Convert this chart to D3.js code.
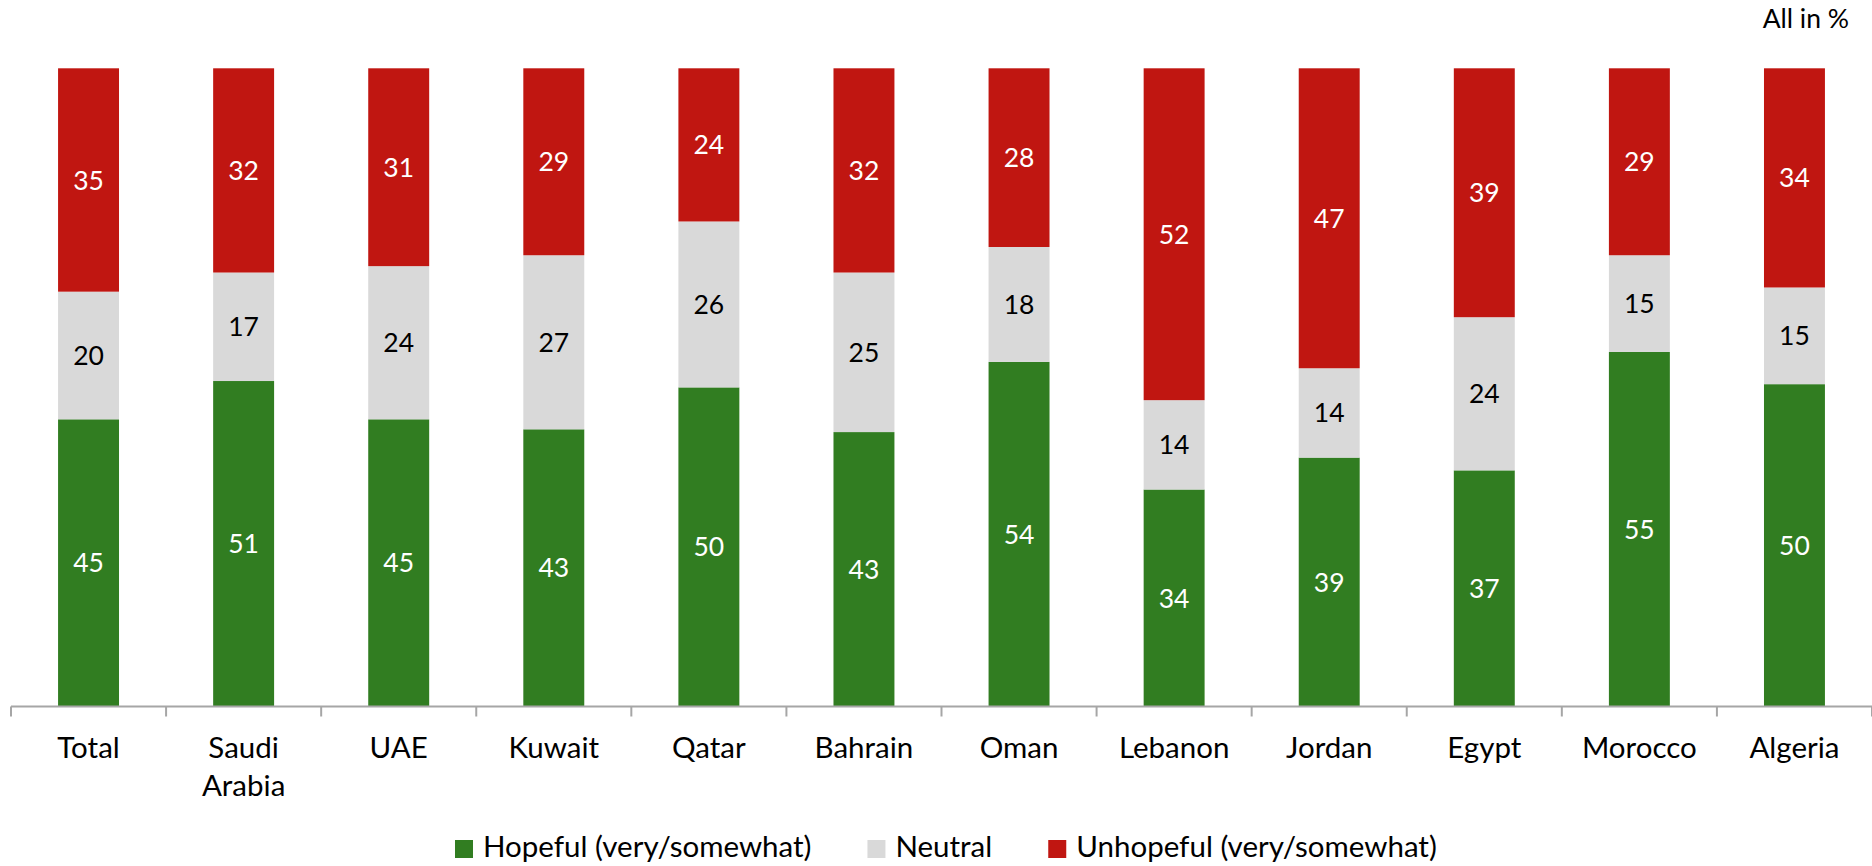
<!DOCTYPE html>
<html>
<head>
<meta charset="utf-8">
<script src="https://cdn.jsdelivr.net/npm/d3@7"></script>
<style>
  html, body { margin: 0; padding: 0; background: #ffffff; }
  svg { display: block; font-family: Lato, "Open Sans", sans-serif; }
</style>
</head>
<body>
<svg id="chart" width="1872" height="866"></svg>
<script>
// Categories (countries) shown along the x axis
const categories = ["Total", "Saudi Arabia", "UAE", "Kuwait", "Qatar", "Bahrain",
                    "Oman", "Lebanon", "Jordan", "Egypt", "Morocco", "Algeria"];

// Share of respondents per answer, in percent
const hopeful   = [45, 51, 45, 43, 50, 43, 54, 34, 39, 37, 55, 50];
const neutral   = [20, 17, 24, 27, 26, 25, 18, 14, 14, 24, 15, 15];
const unhopeful = [35, 32, 31, 29, 24, 32, 28, 52, 47, 39, 29, 34];

const seriesNames = ["Hopeful (very/somewhat)", "Neutral", "Unhopeful (very/somewhat)"];
const seriesColors = ["#317d21", "#d9d9d9", "#c01611"];
const labelColors  = ["#ffffff", "#000000", "#ffffff"];

const keys = ["hopeful", "neutral", "unhopeful"];
const rows = categories.map((c, i) => ({
  category: c, hopeful: hopeful[i], neutral: neutral[i], unhopeful: unhopeful[i]
}));

const svg = d3.select("#chart");
const VALUE_FONT = 26.5;
const LABEL_FONT = 29.5;

// Layout
const axisY = 706.5, topY = 68.3;
const x = d3.scaleBand().domain(categories).range([11, 1872]).padding(0);
const barW = x.bandwidth() * 0.393;
const y = d3.scaleLinear().domain([0, 1]).range([axisY, topY]);

// 100% stacked layout
const stack = d3.stack().keys(keys).offset(d3.stackOffsetExpand);
const layers = stack(rows);

const g = svg.append("g");
layers.forEach((layer, li) => {
  const lg = g.append("g");
  lg.selectAll("rect")
    .data(layer)
    .join("rect")
    .attr("x", d => x(d.data.category) + (x.bandwidth() - barW) / 2)
    .attr("y", d => y(d[1]))
    .attr("width", barW)
    .attr("height", d => y(d[0]) - y(d[1]))
    .attr("fill", seriesColors[li]);

  lg.selectAll("text")
    .data(layer)
    .join("text")
    .attr("x", d => x(d.data.category) + x.bandwidth() / 2)
    .attr("y", d => (y(d[0]) + y(d[1])) / 2)
    .attr("dy", "0.36em")
    .attr("text-anchor", "middle")
    .attr("font-size", VALUE_FONT)
    .attr("fill", labelColors[li])
    .text(d => d.data[keys[li]]);
});

// Category axis: baseline with tick marks between categories
const axis = svg.append("g").attr("transform", `translate(0,${axisY})`);
axis.append("line")
  .attr("x1", 11).attr("x2", 1872)
  .attr("y1", 0).attr("y2", 0)
  .attr("stroke", "#a6a6a6").attr("stroke-width", 2);
const boundaries = categories.map(c => x(c)).concat([x.range()[1]]);
axis.selectAll("line.tick")
  .data(boundaries)
  .join("line")
  .attr("class", "tick")
  .attr("x1", d => d).attr("x2", d => d)
  .attr("y1", 0).attr("y2", 10)
  .attr("stroke", "#a6a6a6").attr("stroke-width", 2);

const catLabels = axis.selectAll("text.cat")
  .data(categories)
  .join("text")
  .attr("class", "cat")
  .attr("x", d => x(d) + x.bandwidth() / 2)
  .attr("y", 51)
  .attr("text-anchor", "middle")
  .attr("font-size", LABEL_FONT)
  .attr("fill", "#000");
catLabels.each(function(d) {
  const words = d.split(" ");
  const t = d3.select(this);
  words.forEach((w, i) => {
    t.append("tspan")
      .attr("x", x(d) + x.bandwidth() / 2)
      .attr("dy", i === 0 ? 0 : 38)
      .text(w);
  });
});

// Unit note
svg.append("text")
  .attr("x", 1849).attr("y", 28)
  .attr("text-anchor", "end")
  .attr("font-size", VALUE_FONT)
  .attr("fill", "#000")
  .text("All in %");

// Legend
const legend = svg.append("g");
let lx = 455;
seriesNames.forEach((name, i) => {
  legend.append("rect")
    .attr("x", lx).attr("y", 840)
    .attr("width", 18).attr("height", 18)
    .attr("fill", seriesColors[i]);
  const t = legend.append("text")
    .attr("x", lx + 28).attr("y", 857)
    .attr("font-size", LABEL_FONT)
    .attr("fill", "#000")
    .text(name);
  lx += 28 + t.node().getComputedTextLength() + 56;
});
</script>
</body>
</html>
